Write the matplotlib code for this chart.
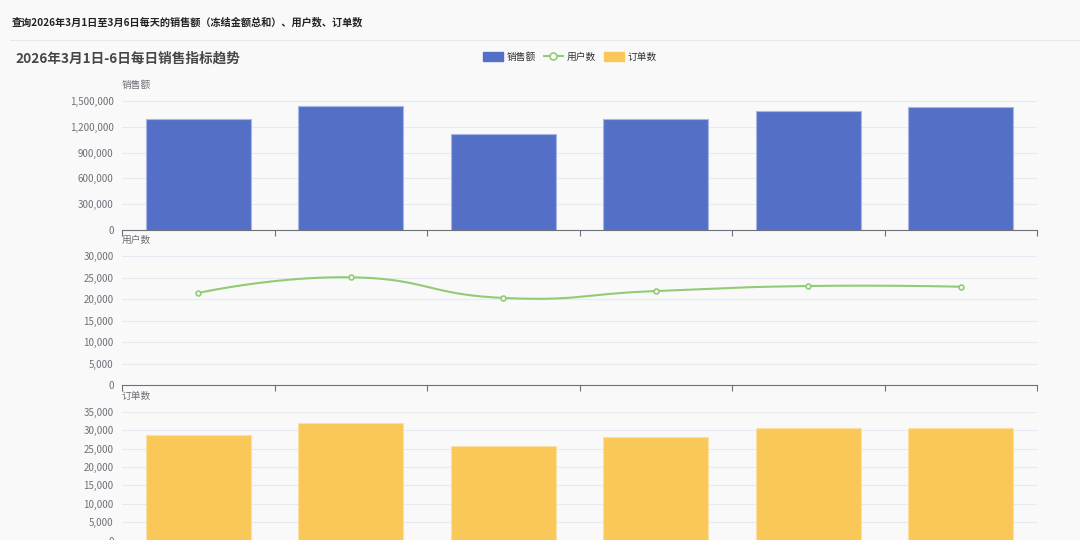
import numpy as np
import matplotlib
matplotlib.use("Agg")
import matplotlib.pyplot as plt
from matplotlib.ticker import FuncFormatter, MultipleLocator
from matplotlib.lines import Line2D
from matplotlib.patches import Patch

plt.rcParams['font.family'] = ['Noto Sans CJK SC', 'DejaVu Sans']

dates = ['3月1日', '3月2日', '3月3日', '3月4日', '3月5日', '3月6日']
sales = [1290000, 1440000, 1116000, 1290000, 1378000, 1428000]
users = [21400, 25050, 20250, 21850, 23020, 22860]
orders = [28700, 32000, 25700, 28150, 30700, 30450]

BG = '#f9f9f9'
BLUE = '#5470c6'
GREEN = '#91cc75'
YELLOW = '#fac858'
AXIS = '#6e7079'
GRID = '#e6e9f2'

fig = plt.figure(figsize=(10.8, 5.4), dpi=100, facecolor=BG)

# header
fig.text(12 / 1080, 1 - 22 / 540, '查询2026年3月1日至3月6日每天的销售额（冻结金额总和）、用户数、订单数',
         fontsize=7.3, fontweight='bold', color='#222222', va='center')
fig.add_artist(Line2D([10 / 1080, 1], [1 - 40 / 540] * 2, color='#e8e8e8', lw=0.8))
fig.text(15 / 1080, 1 - 59 / 540, '2026年3月1日-6日每日销售指标趋势',
         fontsize=9.8, fontweight='bold', color='#464646', va='center')

left, width = 122 / 1080, 915 / 1080
panels = [(101, 230), (256, 385), (411.7, 540.7)]
axes = []
for top, bot in panels:
    ax = fig.add_axes([left, 1 - bot / 540, width, (bot - top) / 540])
    ax.set_facecolor(BG)
    axes.append(ax)

x = np.arange(len(dates))
fmt = FuncFormatter(lambda v, p: f'{int(v):,}')


def style(ax, ymax, step, name):
    ax.set_xlim(-0.5, len(dates) - 0.5)
    ax.set_ylim(0, ymax)
    ax.yaxis.set_major_locator(MultipleLocator(step))
    ax.yaxis.set_major_formatter(fmt)
    ax.grid(axis='y', color=GRID, lw=0.8)
    ax.set_axisbelow(True)
    for s in ['top', 'right', 'left']:
        ax.spines[s].set_visible(False)
    ax.spines['bottom'].set_color(AXIS)
    ax.tick_params(axis='y', length=0, labelsize=7, labelcolor=AXIS, pad=6)
    ax.set_xticks(np.arange(len(dates) + 1) - 0.5)
    ax.tick_params(axis='x', length=4, color=AXIS, labelbottom=False)
    ax.text(0, 1.125, name, transform=ax.transAxes, fontsize=7, color=AXIS, va='center')


ax1, ax2, ax3 = axes
ax1.bar(x, sales, width=0.69, color=BLUE, edgecolor='#a9b6e6', lw=0.8)
style(ax1, 1500000, 300000, '销售额')

# smooth curve like echarts (bezier, smoothness 0.5) in pixel-like space
sx, sy = 152.5, 129 / 30000
px = x * sx
py = np.array(users) * sy
curve_x, curve_y = [], []
n = len(px)
cps = []
for i in range(n):
    if i == 0 or i == n - 1:
        cps.append(((px[i], py[i]), (px[i], py[i])))
        continue
    vx, vy = px[i + 1] - px[i - 1], py[i + 1] - py[i - 1]
    d0 = np.hypot(px[i] - px[i - 1], py[i] - py[i - 1])
    d1 = np.hypot(px[i + 1] - px[i], py[i + 1] - py[i])
    tot = d0 + d1
    d0, d1 = d0 / tot, d1 / tot
    cps.append(((px[i] - vx * 0.5 * d0, py[i] - vy * 0.5 * d0),
                (px[i] + vx * 0.5 * d1, py[i] + vy * 0.5 * d1)))
t = np.linspace(0, 1, 40)
for i in range(n - 1):
    p0 = np.array([px[i], py[i]])
    p1 = np.array(cps[i][1])
    p2 = np.array(cps[i + 1][0])
    p3 = np.array([px[i + 1], py[i + 1]])
    b = ((1 - t) ** 3)[:, None] * p0 + (3 * (1 - t) ** 2 * t)[:, None] * p1 \
        + (3 * (1 - t) * t ** 2)[:, None] * p2 + (t ** 3)[:, None] * p3
    curve_x.extend(b[:, 0] / sx)
    curve_y.extend(b[:, 1] / sy)
ax2.plot(curve_x, curve_y, color=GREEN, lw=1.5)
ax2.plot(x, users, 'o', ms=3.5, mfc=BG, mec=GREEN, mew=1.2)
style(ax2, 30000, 5000, '用户数')

ax3.bar(x, orders, width=0.69, color=YELLOW, edgecolor='#fbe0a6', lw=0.8)
style(ax3, 35000, 5000, '订单数')

handles = [Patch(facecolor=BLUE, edgecolor=BLUE),
           Line2D([], [], color=GREEN, marker='o', ms=5, mfc='white', mew=1.2, lw=1.5),
           Patch(facecolor=YELLOW, edgecolor=YELLOW)]
fig.legend(handles, ['销售额', '用户数', '订单数'], loc='center', bbox_to_anchor=(570 / 1080, 1 - 57 / 540),
           ncol=3, frameon=False, fontsize=7, labelcolor='#333333', handlelength=2.0,
           handleheight=1.0, columnspacing=0.8, handletextpad=0.4)

fig.savefig('out.png', dpi=100, facecolor=BG)
